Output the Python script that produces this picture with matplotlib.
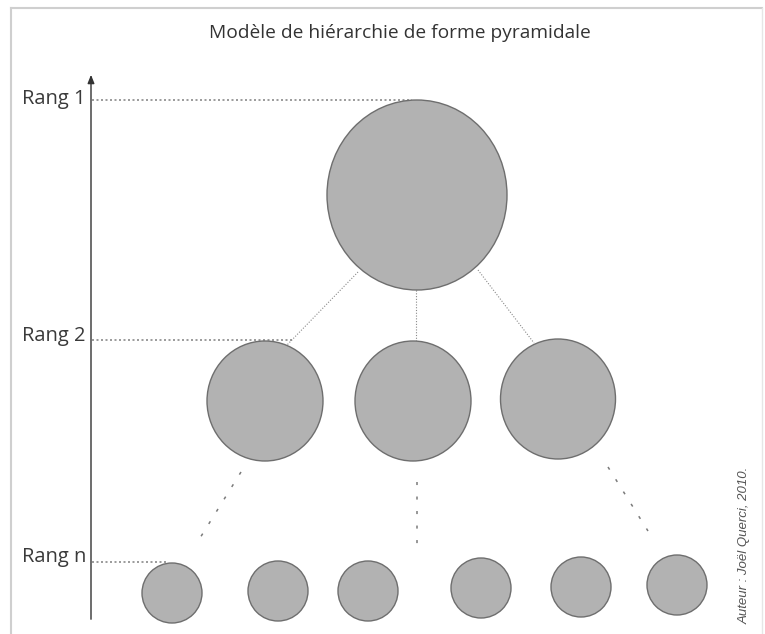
import matplotlib
matplotlib.use("Agg")
import matplotlib.pyplot as plt
from matplotlib.patches import Ellipse

# pyramid diagram, coordinates in pixels of the original picture (y goes down)
title = "Modèle de hiérarchie de forme pyramidale"
author = "Auteur : Joël Querci, 2010."

rank_labels = ["Rang 1", "Rang 2", "Rang n"]
rank_y = [100, 340, 562]          # level of the dotted guide line
rank_x_end = [412, 292, 166]      # where the guide line stops
rank_base = [104, 341, 562]       # text baseline

# circles: centre x, centre y, width, height
top_x, top_y, top_w, top_h = [417], [195], [180], [190]
mid_x = [265, 413, 558]
mid_y = [401, 401, 399]
mid_w = [116, 116, 115]
mid_h = [120, 120, 120]
low_x = [172, 278, 368, 481, 581, 677]
low_y = [593, 591, 591, 588, 587, 585]
low_w = [60, 60, 60, 60, 60, 60]
low_h = [60, 60, 60, 60, 60, 60]

# links top -> rank 2 (fine dots) and rank 2 -> rank n (sparse dots)
links_top = [((358, 272), (287, 345)), ((416, 290), (416, 341)), ((478, 270), (534, 343))]
links_low = [((241, 472), (200, 538)), ((417, 482), (417, 545)), ((608, 467), (648, 531))]

fill = "#b2b2b2"
edge = "#6e6e6e"

fig = plt.figure(figsize=(7.65, 6.34), dpi=100)
ax = fig.add_axes([0, 0, 1, 1])
ax.set_xlim(0, 765)
ax.set_ylim(634, 0)
ax.axis("off")

# frame
ax.plot([11, 11], [8, 634], color="#cfcfcf", lw=1.5)
ax.plot([11, 762], [8, 8], color="#cfcfcf", lw=1.5)
ax.plot([762, 762], [8, 634], color="#e6e6e6", lw=1.0)

ax.text(400, 33, title, ha="center", va="center", fontsize=13.8,
        family="Open Sans", color="#333333")

# vertical axis with arrow
ax.annotate("", xy=(91, 72), xytext=(91, 622),
            arrowprops=dict(arrowstyle="-|>,head_length=0.5,head_width=0.2",
                            color="#333333", lw=1.0))

for lab, y, xe, yb in zip(rank_labels, rank_y, rank_x_end, rank_base):
    ax.plot([92, xe], [y, y], color="#8a8a8a", lw=1.2, ls=(0, (1.2, 1.5)))
    ax.text(22, yb, lab, ha="left", va="baseline", fontsize=14.5,
            family="Open Sans", color="#3a3a3a")

for (x0, y0), (x1, y1) in links_top:
    ax.plot([x0, x1], [y0, y1], color="#8a8a8a", lw=0.8, ls=(0, (1, 1.5)))
for (x0, y0), (x1, y1) in links_low:
    ax.plot([x0, x1], [y0, y1], color="#7a7a7a", lw=1.1, ls=(0, (2, 7.5)))

for xs, ys, ws, hs in [(top_x, top_y, top_w, top_h), (mid_x, mid_y, mid_w, mid_h),
                       (low_x, low_y, low_w, low_h)]:
    for x, y, w, h in zip(xs, ys, ws, hs):
        ax.add_patch(Ellipse((x, y), w, h, facecolor=fill, edgecolor=edge, lw=1.0, zorder=3))

ax.text(745, 545, author, rotation=90, ha="center", va="center", fontsize=9.5,
        style="italic", family="Liberation Sans", color="#555555")

fig.savefig("out.png", dpi=100)
